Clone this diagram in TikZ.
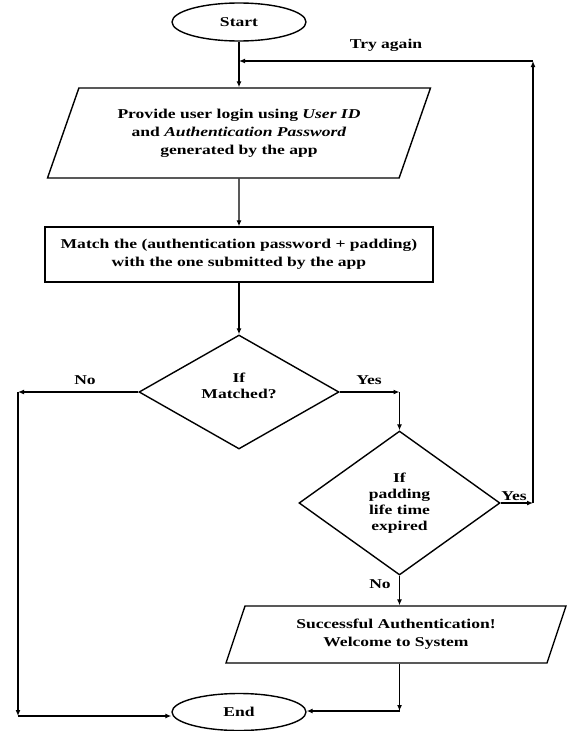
\documentclass[tikz,border=0pt]{standalone}
\usepackage{fontspec}
\setmainfont[FakeStretch=1.3]{Liberation Serif}
\usetikzlibrary{shapes.geometric,arrows.meta}
\begin{document}
\begin{tikzpicture}[x=1pt,y=-1pt,
  every node/.style={font=\fontsize{13.5}{18}\selectfont\bfseries},
  base/.style={draw,line width=1.4pt,align=center,inner sep=0pt},
  term/.style={base,ellipse,minimum width=134pt,minimum height=38pt},
  io/.style={base,trapezium,trapezium stretches body,trapezium left angle=#1,trapezium right angle=180-#1},
  proc/.style={base,rectangle},
  dec/.style={base,diamond,font=\fontsize{13.5}{16}\selectfont\bfseries},
  arr/.style={line width=1.4pt,-{Latex[length=6pt,width=5pt]}},
  lbl/.style={inner sep=0pt}]
\useasboundingbox (0,0) rectangle (571,731);

% shapes
\node[term] (start) at (239,22) {Start};
\node[io=57, minimum width=383pt, minimum height=90pt] (login) at (239,133)
  {Provide user login using \textit{User ID}\\and \textit{Authentication Password}\\generated by the app};
\node[proc, minimum width=388pt, minimum height=55pt] (match) at (239,254.5)
  {Match the (authentication password + padding)\\with the one submitted by the app};
\node[dec, minimum width=200pt, minimum height=114pt] (d1) at (239,392) {If\\Matched?\\[-4pt]};
\node[dec, minimum width=201pt, minimum height=144pt] (d2) at (399.5,503) {If\\padding\\life time\\expired};
\node[io=58, minimum width=340pt, minimum height=57pt] (ok) at (396,634.5)
  {Successful Authentication!\\Welcome to System};
\node[term, minimum height=37pt] (end) at (239,712) {End};

% bend points
\coordinate (join) at (239,61);
\coordinate (noL) at (18,392);
\coordinate (noB) at (18,716);
\coordinate (yesR) at (399.5,392);
\coordinate (tryB) at (533,503);
\coordinate (tryT) at (533,61);
\coordinate (okB) at (399.5,711);

% connectors
\draw[arr] (start) -- (login);
\draw[arr] (login) -- (match);
\draw[arr] (match) -- (d1);
\draw[arr] (d1.west) -- (noL);
\draw[arr] (noL) -- (noB);
\draw[arr] (noB) -- (end.west |- noB);
\draw[arr] (d1.east) -- (yesR);
\draw[arr] (yesR) -- (d2.north);
\draw[arr] (d2.east) -- (tryB);
\draw[arr] (tryB) -- (tryT);
\draw[arr] (tryT) -- (join);
\draw[arr] (d2.south) -- (d2.south |- ok.north);
\draw[arr] (d2.south |- ok.south) -- (okB);
\draw[arr] (okB) -- (end.east |- okB);

% labels
\node[lbl] (tryLbl) at (386,45) {Try again};
\node[lbl] (noLbl) at (85,380) {No};
\node[lbl] (yesLbl) at (369,380) {Yes};
\node[lbl] (yes2Lbl) at (514,496) {Yes};
\node[lbl] (no2Lbl) at (380,584) {No};
\end{tikzpicture}
\end{document}
